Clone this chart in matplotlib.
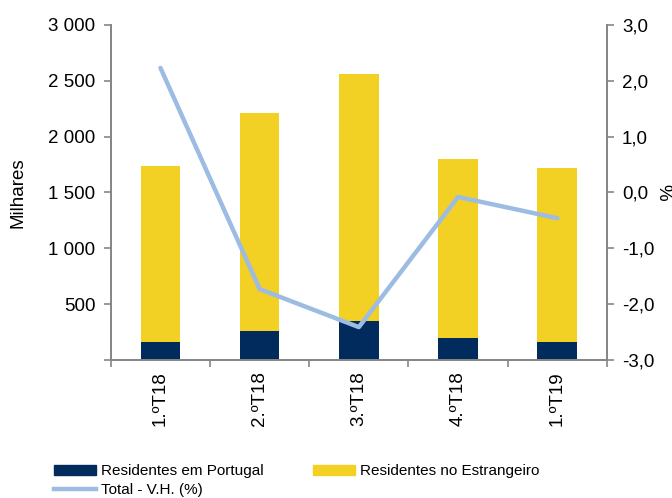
import matplotlib
matplotlib.use("Agg")
import matplotlib.pyplot as plt
from matplotlib.patches import Patch
from matplotlib.lines import Line2D
from matplotlib.ticker import FuncFormatter

plt.rcParams['font.family'] = ['Liberation Sans', 'DejaVu Sans']

# data (milhares / %)
categories = ['1.ºT18', '2.ºT18', '3.ºT18', '4.ºT18', '1.ºT19']
residentes_pt = [158, 256, 352, 193, 164]
residentes_estr = [1579, 1955, 2208, 1607, 1555]
total_vh = [2.23, -1.73, -2.41, -0.08, -0.46]

c_pt = '#002B5C'
c_estr = '#F2D024'
c_line = '#9DBCE3'
c_axis = '#868686'
fs = 13.5

fig = plt.figure(figsize=(6.72, 4.98), dpi=100)
ax = fig.add_axes([0.165, 0.277, 0.738, 0.673])
x = list(range(len(categories)))

ax.bar(x, residentes_pt, width=0.4, color=c_pt, zorder=2)
ax.bar(x, residentes_estr, width=0.4, bottom=residentes_pt, color=c_estr, zorder=2)
ax.set_xlim(-0.5, len(categories) - 0.5)
ax.set_ylim(0, 3000)
ax.set_yticks([0, 500, 1000, 1500, 2000, 2500, 3000])
ax.yaxis.set_major_formatter(FuncFormatter(
    lambda v, p: '' if v == 0 else f'{int(v):,}'.replace(',', ' ')))
ax.set_ylabel('Milhares', fontsize=fs, labelpad=16)

ax.set_xticks([i + 0.5 for i in range(-1, len(categories))])
ax.set_xticklabels([])
ax.set_xticks(x, minor=True)
ax.set_xticklabels(categories, minor=True, rotation=90, fontsize=fs)
ax.tick_params(axis='x', which='minor', length=0, pad=8)
ax.tick_params(axis='x', which='major', length=5, color=c_axis, width=1.2)
ax.tick_params(axis='y', length=5, color=c_axis, width=1.2, labelsize=fs, pad=6)

ax2 = ax.twinx()
ax2.plot(x, total_vh, color=c_line, linewidth=3.2, solid_capstyle='round', zorder=3)
ax2.set_ylim(-3, 3)
ax2.set_yticks([-3, -2, -1, 0, 1, 2, 3])
ax2.yaxis.set_major_formatter(FuncFormatter(lambda v, p: f'{v:.1f}'.replace('.', ',')))
ax2.tick_params(axis='y', length=5, color=c_axis, width=1.2, labelsize=fs, pad=6)
ax2.set_ylabel('%', fontsize=fs, rotation=270, labelpad=12)

for a in (ax, ax2):
    a.spines['top'].set_visible(False)
    for s in ('left', 'right', 'bottom'):
        a.spines[s].set_color(c_axis)
        a.spines[s].set_linewidth(1.3)

handles = [Patch(color=c_pt), Line2D([], [], color=c_line, linewidth=3.2),
           Patch(color=c_estr)]
labels = ['Residentes em Portugal', 'Total - V.H. (%)', 'Residentes no Estrangeiro']
fig.legend(handles, labels, ncol=2, loc='lower left', bbox_to_anchor=(0.06, -0.026),
           frameon=False, fontsize=11, handlelength=2.75, handleheight=0.6,
           labelspacing=0.32, columnspacing=3.25, handletextpad=0.3)

fig.savefig('out.png', dpi=100)
